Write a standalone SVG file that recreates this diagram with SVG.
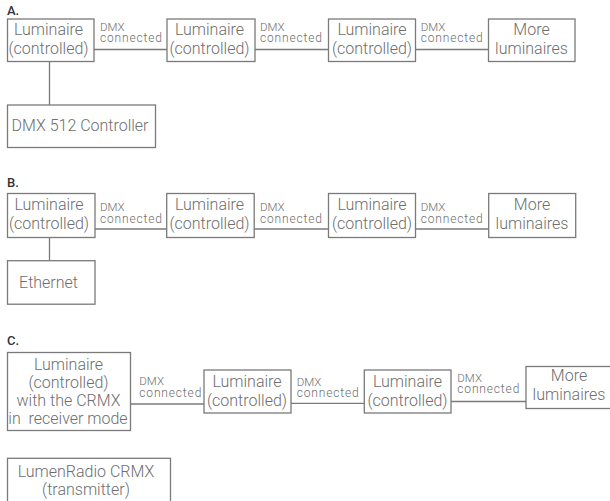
<svg xmlns="http://www.w3.org/2000/svg" width="610" height="501" viewBox="0 0 610 501">
<style>
.box{fill:#fff;stroke:#7a7a7a;stroke-width:1.3}
.t{font-family:Roboto,"Liberation Sans",sans-serif;font-weight:300;font-size:16px;fill:#6e6e6e;text-anchor:middle}
.tl{font-family:Roboto,"Liberation Sans",sans-serif;font-weight:300;font-size:12px;fill:#6e6e6e}
.d{font-family:Roboto,"Liberation Sans",sans-serif;font-weight:300;font-size:11.5px;fill:#6e6e6e}
.sec{font-family:Roboto,"Liberation Sans",sans-serif;font-weight:500;font-size:13px;fill:#333}
.ln{stroke:#7a7a7a;stroke-width:1.3;fill:none}
</style>
<rect width="610" height="501" fill="#fff"/>
<text class="sec" x="7" y="15">A.</text>
<text class="sec" x="7" y="186.5">B.</text>
<text class="sec" x="7" y="345">C.</text>

<g id="connectors">
<line class="ln" x1="94" y1="49.5" x2="167" y2="49.5"/>
<line class="ln" x1="255" y1="49.5" x2="328.5" y2="49.5"/>
<line class="ln" x1="415.5" y1="49.5" x2="488.5" y2="49.5"/>
<line class="ln" x1="49.5" y1="61.5" x2="49.5" y2="105"/>
<line class="ln" x1="95" y1="229" x2="166.7" y2="229"/>
<line class="ln" x1="254.2" y1="229" x2="328.5" y2="229"/>
<line class="ln" x1="415.5" y1="229" x2="488.7" y2="229"/>
<line class="ln" x1="49.5" y1="237.5" x2="49.5" y2="260.7"/>
<line class="ln" x1="130.5" y1="404" x2="204" y2="404"/>
<line class="ln" x1="291" y1="403.3" x2="364.3" y2="403.3"/>
<line class="ln" x1="451" y1="401.5" x2="526" y2="401.5"/>
<text class="d" x="100" y="30.5">DMX</text>
<text class="tl" x="100" y="42"><tspan textLength="62">connected</tspan></text>
<text class="d" x="260" y="30.5">DMX</text>
<text class="tl" x="260" y="42"><tspan textLength="62">connected</tspan></text>
<text class="d" x="420.7" y="30.5">DMX</text>
<text class="tl" x="420.7" y="42"><tspan textLength="62">connected</tspan></text>
<text class="d" x="100" y="210.5">DMX</text>
<text class="tl" x="100" y="223.3"><tspan textLength="62">connected</tspan></text>
<text class="d" x="260" y="210.5">DMX</text>
<text class="tl" x="260" y="223.3"><tspan textLength="62">connected</tspan></text>
<text class="d" x="420.7" y="210.5">DMX</text>
<text class="tl" x="420.7" y="223.3"><tspan textLength="62">connected</tspan></text>
<text class="d" x="139.3" y="385">DMX</text>
<text class="tl" x="139.3" y="396.5"><tspan textLength="62">connected</tspan></text>
<text class="d" x="296.7" y="385.5">DMX</text>
<text class="tl" x="296.7" y="397"><tspan textLength="62">connected</tspan></text>
<text class="d" x="457.3" y="381.5">DMX</text>
<text class="tl" x="457.3" y="393"><tspan textLength="62">connected</tspan></text>
</g>

<g id="a1"><rect class="box" x="7.5" y="19" width="86.5" height="42.5"/><text class="t" x="48.5" y="35">Luminaire</text><text class="t" x="48.5" y="53.5">(controlled)</text></g>
<g id="a2"><rect class="box" x="167" y="19" width="88" height="42.5"/><text class="t" x="209.5" y="35">Luminaire</text><text class="t" x="209.5" y="53.5">(controlled)</text></g>
<g id="a3"><rect class="box" x="328.5" y="19" width="87" height="42.5"/><text class="t" x="372" y="35">Luminaire</text><text class="t" x="372" y="53.5">(controlled)</text></g>
<g id="a4"><rect class="box" x="488.5" y="19" width="86.5" height="42.5"/><text class="t" x="531.5" y="35">More</text><text class="t" x="531.5" y="53.5">luminaires</text></g>
<g id="a-ctrl"><rect class="box" x="7.5" y="105" width="148" height="42.5"/><text class="t" x="80" y="131">DMX 512 Controller</text></g>

<g id="b1"><rect class="box" x="7.5" y="193.5" width="87.5" height="44"/><text class="t" x="49" y="210">Luminaire</text><text class="t" x="49" y="228.5">(controlled)</text></g>
<g id="b2"><rect class="box" x="166.7" y="193.5" width="87.5" height="44"/><text class="t" x="209.5" y="210">Luminaire</text><text class="t" x="209.5" y="228.5">(controlled)</text></g>
<g id="b3"><rect class="box" x="328.5" y="193.5" width="87" height="44"/><text class="t" x="372" y="210">Luminaire</text><text class="t" x="372" y="228.5">(controlled)</text></g>
<g id="b4"><rect class="box" x="488.7" y="193.5" width="87" height="44"/><text class="t" x="532" y="210">More</text><text class="t" x="532" y="228.5">luminaires</text></g>
<g id="b-eth"><rect class="box" x="7.5" y="260.7" width="87.5" height="43.5"/><text class="t" x="48.5" y="287.7">Ethernet</text></g>

<g id="c1"><rect class="box" x="7.5" y="352.5" width="123" height="78"/><text class="t" x="68.5" y="369.5">Luminaire</text><text class="t" x="68.5" y="387.5">(controlled)</text><text class="t" x="68.5" y="405.5">with the CRMX</text><text class="t" x="68" y="423.5" xml:space="preserve">in  receiver mode</text></g>
<g id="c2"><rect class="box" x="204" y="370" width="87" height="43"/><text class="t" x="247" y="387.3">Luminaire</text><text class="t" x="247" y="405.5">(controlled)</text></g>
<g id="c3"><rect class="box" x="364.3" y="370" width="86.7" height="43"/><text class="t" x="407.5" y="387.3">Luminaire</text><text class="t" x="407.5" y="405.5">(controlled)</text></g>
<g id="c4"><rect class="box" x="526" y="366.5" width="87" height="42"/><text class="t" x="569" y="381">More</text><text class="t" x="569" y="399.5">luminaires</text></g>
<g id="c-tx"><rect class="box" x="7.5" y="458.3" width="163" height="60"/><text class="t" x="86" y="476.7">LumenRadio CRMX</text><text class="t" x="86" y="495">(transmitter)</text></g>
</svg>
